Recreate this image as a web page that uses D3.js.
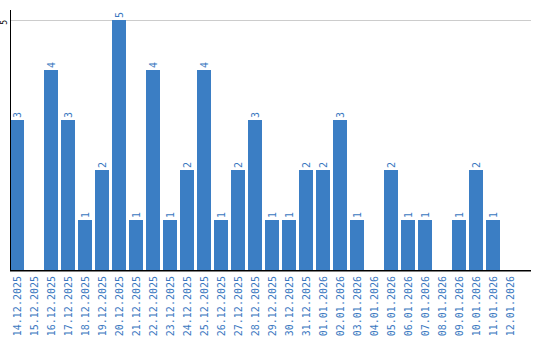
<!DOCTYPE html>
<html>
<head>
<meta charset="utf-8">
<script src="https://cdn.jsdelivr.net/npm/d3@7"></script>
<style>
  body { margin: 0; background: #fff; }
  text { font-family: "DejaVu Sans Mono", monospace; }
</style>
</head>
<body>
<div id="chart"></div>
<script>
// dates shown on the x axis
const dates = [
  "14.12.2025", "15.12.2025", "16.12.2025", "17.12.2025", "18.12.2025",
  "19.12.2025", "20.12.2025", "21.12.2025", "22.12.2025", "23.12.2025",
  "24.12.2025", "25.12.2025", "26.12.2025", "27.12.2025", "28.12.2025",
  "29.12.2025", "30.12.2025", "31.12.2025", "01.01.2026", "02.01.2026",
  "03.01.2026", "04.01.2026", "05.01.2026", "06.01.2026", "07.01.2026",
  "08.01.2026", "09.01.2026", "10.01.2026", "11.01.2026", "12.01.2026"
];
const counts = [3, 0, 4, 3, 1, 2, 5, 1, 4, 1, 2, 4, 1, 2, 3, 1, 1, 2, 2, 3, 1, 0, 2, 1, 1, 0, 1, 2, 1, 0];
const yTicks = [5];

const width = 540, height = 340;
const blue = "#3b7ec4";
const labelBlue = "#3a78bf";

const svg = d3.select("#chart").append("svg")
    .attr("width", width)
    .attr("height", height);

const x = d3.scaleBand()
    .domain(dates)
    .range([10, 517])
    .paddingInner(3 / 17)
    .paddingOuter(0);

const y = d3.scaleLinear()
    .domain([0, 5])
    .range([270, 20]);

// grid
svg.selectAll(".grid").data(yTicks).enter().append("line")
    .attr("class", "grid")
    .attr("x1", 10).attr("x2", 531)
    .attr("y1", d => y(d) + 0.5).attr("y2", d => y(d) + 0.5)
    .attr("stroke", "#cccccc")
    .attr("stroke-width", 1);

// bars
const data = dates.map((d, i) => ({ date: d, value: counts[i] }));
svg.selectAll(".bar").data(data.filter(d => d.value > 0)).enter().append("rect")
    .attr("class", "bar")
    .attr("x", d => x(d.date))
    .attr("y", d => y(d.value))
    .attr("width", x.bandwidth())
    .attr("height", d => y(0) - y(d.value))
    .attr("fill", blue);

// value labels
svg.selectAll(".val").data(data.filter(d => d.value > 0)).enter().append("text")
    .attr("class", "val")
    .attr("transform", d => `translate(${x(d.date) + x.bandwidth() / 2},${y(d.value) - 2}) rotate(-90)`)
    .attr("dy", "0.37em")
    .attr("text-anchor", "start")
    .style("font-size", "10px")
    .attr("fill", labelBlue)
    .text(d => d.value);

// axes lines
svg.append("line")
    .attr("x1", 10.5).attr("x2", 10.5)
    .attr("y1", 10).attr("y2", 271)
    .attr("stroke", "#000").attr("stroke-width", 1);
svg.append("line")
    .attr("x1", 10).attr("x2", 531)
    .attr("y1", 270.75).attr("y2", 270.75)
    .attr("stroke", "#000").attr("stroke-width", 1.5);

// y tick labels
svg.selectAll(".ytick").data(yTicks).enter().append("text")
    .attr("class", "ytick")
    .attr("transform", d => `translate(7,${y(d)}) rotate(-90)`)
    .attr("text-anchor", "end")
    .style("font-size", "8px")
    .attr("fill", "#000")
    .text(d => d);

// x tick labels
svg.selectAll(".xtick").data(dates).enter().append("text")
    .attr("class", "xtick")
    .attr("transform", d => `translate(${x(d) + x.bandwidth() / 2},276) rotate(-90)`)
    .attr("dy", "0.4em")
    .attr("text-anchor", "end")
    .style("font-size", "10px")
    .attr("fill", labelBlue)
    .text(d => d);
</script>
</body>
</html>
